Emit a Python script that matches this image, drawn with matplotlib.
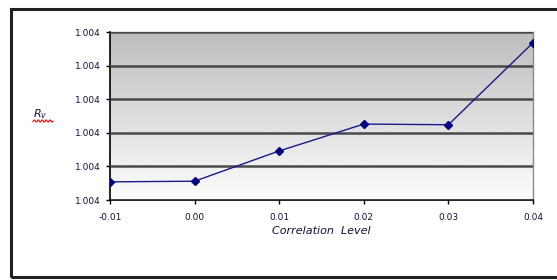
import numpy as np
import matplotlib.pyplot as plt
from matplotlib.patches import Rectangle
from matplotlib.ticker import FormatStrFormatter

# correlation level vs R_v
corr = [-0.01, 0.00, 0.01, 0.02, 0.03, 0.04]
r_v = [1.004027, 1.004028, 1.004073, 1.004113, 1.004112, 1.004234]
y_ticks = [1.00400, 1.00405, 1.00410, 1.00415, 1.00420, 1.00425]

fig = plt.figure(figsize=(5.57, 2.80), dpi=100)
fig.patch.set_facecolor('white')

# outer chart border
fig.patches.append(Rectangle((11/557, 3/280), 560/557, 268/280, transform=fig.transFigure,
                             fill=False, edgecolor='#202020', linewidth=2.2))

ax = fig.add_axes([110/557, 1 - 200/280, 423/557, 168/280])
ax.set_xlim(-0.01, 0.04)
ax.set_ylim(y_ticks[0], y_ticks[-1])

# gradient background, darker at the top
grad = np.linspace(0.99, 0.74, 256).reshape(-1, 1)
ax.imshow(grad, cmap='gray', vmin=0, vmax=1, aspect='auto', extent=[0, 1, 0, 1],
          transform=ax.transAxes, zorder=0, origin='lower')

ax.set_yticks(y_ticks)
ax.set_xticks(corr)
ax.yaxis.set_major_formatter(FormatStrFormatter('%.3f'))
ax.xaxis.set_major_formatter(FormatStrFormatter('%.2f'))
ax.grid(axis='y', color='#4a4a4a', linewidth=1.8, zorder=1)
ax.set_axisbelow(False)

ax.plot(corr, r_v, color='#1a1a8c', linewidth=1.0, marker='D', markersize=4,
        markerfacecolor='#000080', markeredgecolor='#000080', zorder=3)

ax.tick_params(labelsize=6.5, labelcolor='#10103a', length=3, width=1, direction='out', color='black')
ax.tick_params(axis='x', pad=6)
for s in ['left', 'bottom']:
    ax.spines[s].set_color('black')
    ax.spines[s].set_linewidth(1.2)
for s in ['top', 'right']:
    ax.spines[s].set_color('#8a8a8a')
    ax.spines[s].set_linewidth(1.0)

ax.set_xlabel('Correlation  Level', fontsize=8, style='italic', color='#10103a', labelpad=3)

# y label: R_v with the spellcheck squiggle
fig.text(33/557, 1 - 117/280, '$R_v$', fontsize=8, color='#10103a')
sx = np.linspace(33, 53, 21)
sy = 1 - (121 + 1.2 * np.sin(sx * 1.6)) / 280
fig.lines.append(plt.Line2D(sx / 557, sy, transform=fig.transFigure, color='red', linewidth=0.8))

fig.savefig('out.png', dpi=100)
